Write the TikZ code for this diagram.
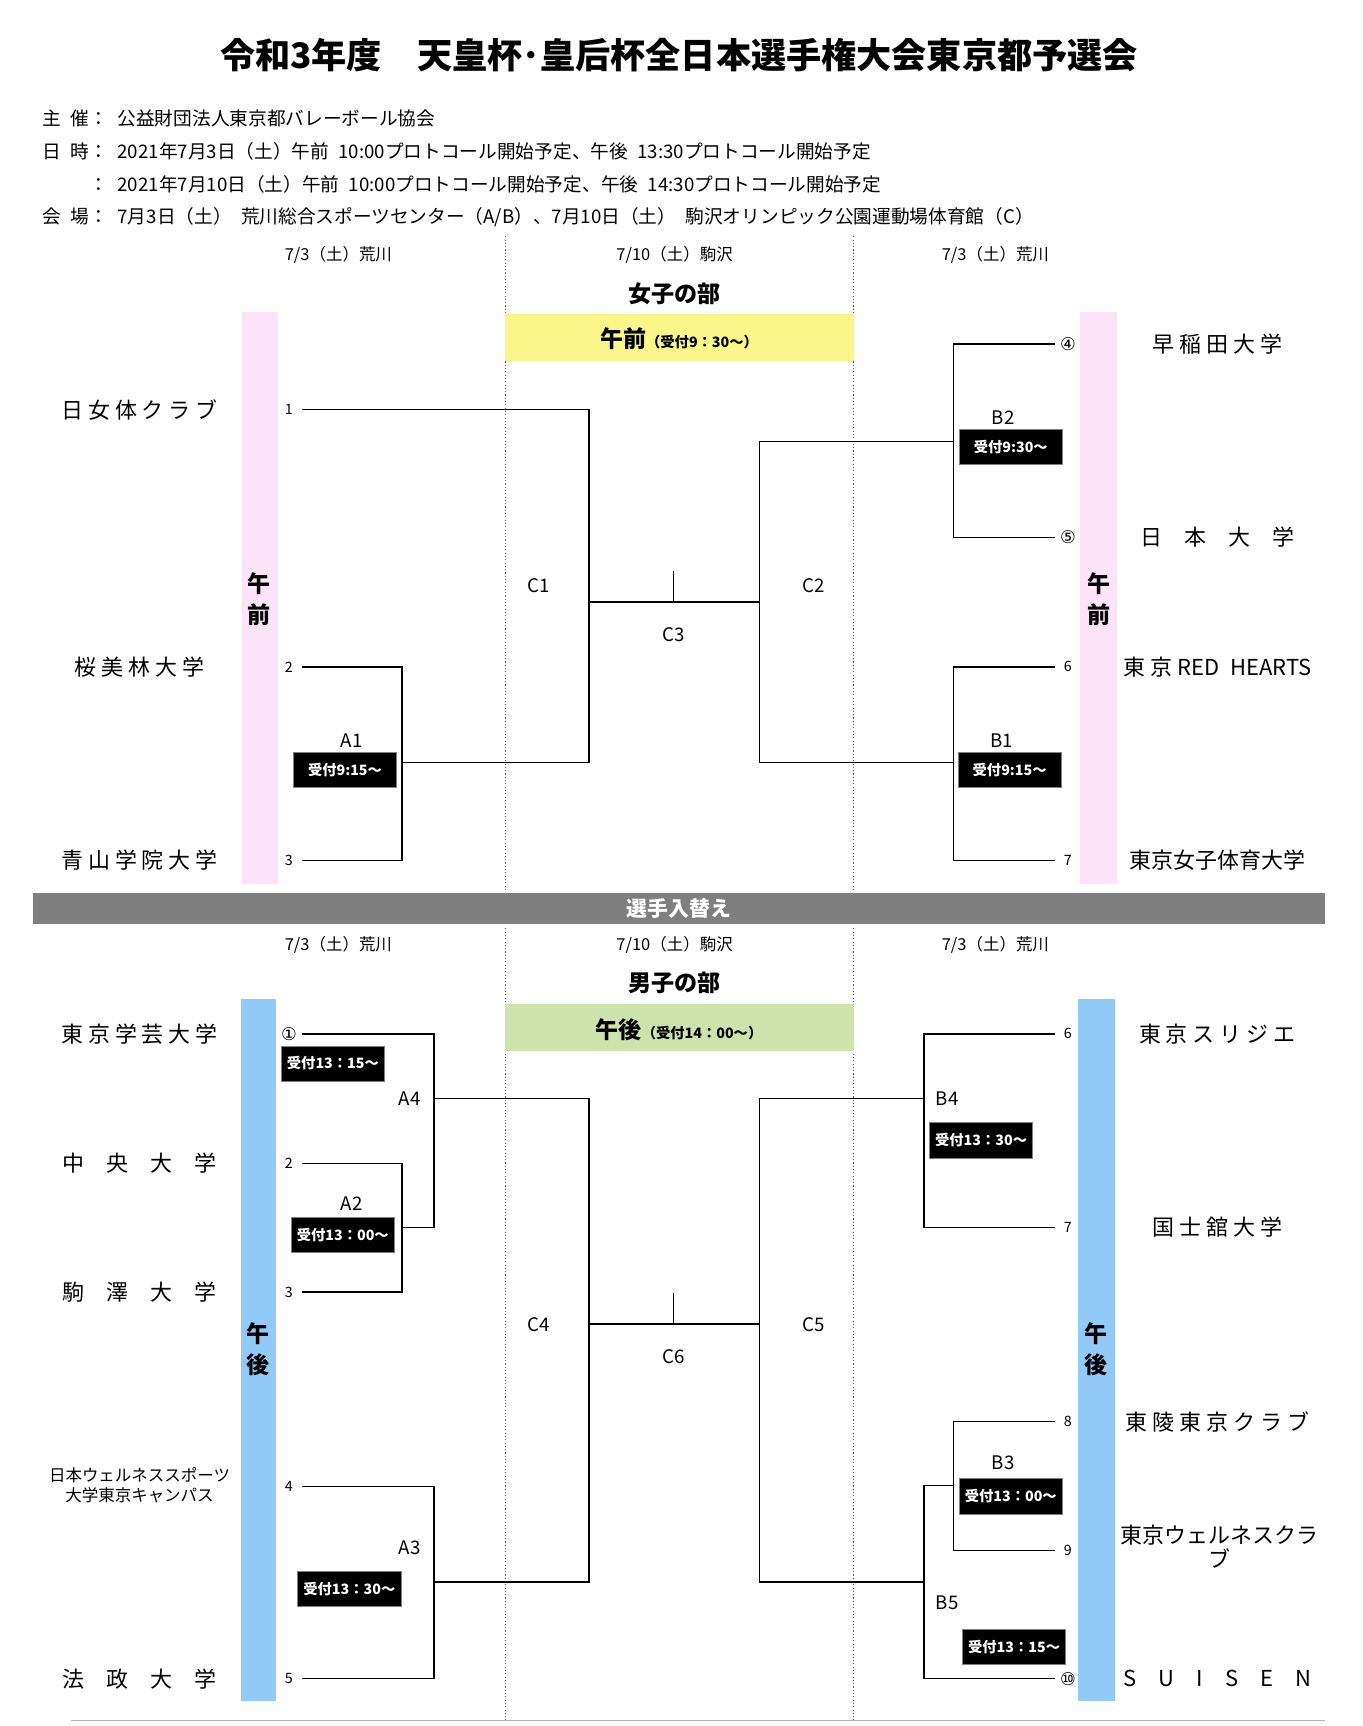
\documentclass[tikz,border=0pt]{standalone}
\usepackage{fontspec}
\setmainfont{Noto Sans CJK JP}
\newfontfamily\numfont{DejaVu Sans}
\definecolor{PinkBar}{HTML}{FBE4F8}
\definecolor{BlueBar}{HTML}{92CAF7}
\definecolor{YellowBox}{HTML}{FAF68A}
\definecolor{GreenBox}{HTML}{CDE3AB}
\definecolor{BandGray}{HTML}{7F7F7F}
\tikzset{
    info/.style={anchor=west,font=\fontsize{8.5}{10}\selectfont},
    hdr/.style={font=\fontsize{7.5}{9}\selectfont},
    team/.style={font=\fontsize{10}{12}\selectfont,align=center},
    num/.style={font=\fontsize{6.5}{8}\selectfont},
    mlabel/.style={font=\fontsize{8.5}{10}\selectfont},
    recept/.style={fill=black,text=white,draw=gray,font=\bfseries\fontsize{6.5}{8}\selectfont,
        minimum width=47pt,minimum height=16pt,inner sep=1pt},
    bracket/.style={line width=0.6pt},
    sep/.style={densely dotted,gray!70!black,line width=0.5pt},
}
\newcommand\Recept[4]{% name, x, y, text
    \node[recept] (#1) at (#2,#3) {#4};
}
\begin{document}
\begin{tikzpicture}[x=0.5pt,y=-0.5pt]
    \useasboundingbox (0,0) rectangle (1240,1571);
    % header
    \node[font=\bfseries\fontsize{16}{18}\selectfont] (title) at (618,50) {令和3年度\quad 天皇杯･皇后杯全日本選手権大会東京都予選会};
    \node[info] (host) at (32,108) {主\enspace 催：\enspace 公益財団法人東京都バレーボール協会};
    \node[info] (date1) at (32,138) {日\enspace 時：\enspace 2021年7月3日（土）午前\enspace 10:00プロトコール開始予定、午後\enspace 13:30プロトコール開始予定};
    \node[info] (date2) at (32,168) {\phantom{日\enspace 時}：\enspace 2021年7月10日（土）午前\enspace 10:00プロトコール開始予定、午後\enspace 14:30プロトコール開始予定};
    \node[info] (venue) at (32,198) {会\enspace 場：\enspace 7月3日（土）\enspace 荒川総合スポーツセンター（A/B）、7月10日（土）\enspace 駒沢オリンピック公園運動場体育館（C）};
    % separators
    \draw[sep] (460,215) -- (460,810) (777,215) -- (777,810);
    \draw[sep] (460,845) -- (460,1568) (777,845) -- (777,1568);
    % ---------- women
    \node[hdr] (wh1) at (308,232) {7/3（土）荒川};
    \node[hdr] (wh2) at (614,232) {7/10（土）駒沢};
    \node[hdr] (wh3) at (906,232) {7/3（土）荒川};
    \node[font=\bfseries\fontsize{10.5}{12}\selectfont] (women) at (614,267) {女子の部};
    \fill[YellowBox] (460,286) rectangle (777,329);
    \node (wbox) at (618,308) {\bfseries\fontsize{10.5}{12}\selectfont 午前\fontsize{6.5}{8}\selectfont（受付9：30～）};
    \fill[PinkBar] (220,284) rectangle (253,805);
    \fill[PinkBar] (983,284) rectangle (1017,805);
    \node[team,font=\bfseries\fontsize{10.5}{14}\selectfont] (wl) at (236,545) {午\\前};
    \node[team,font=\bfseries\fontsize{10.5}{14}\selectfont] (wr) at (1000,545) {午\\前};
    \node[team] (t1) at (127,373) {日 女 体 ク ラ ブ};
    \node[team] (t2) at (127,607) {桜 美 林 大 学};
    \node[team] (t3) at (127,783) {青 山 学 院 大 学};
    \node[num] (n1) at (263,373) {1};
    \node[num] (n2) at (263,607) {2};
    \node[num] (n3) at (263,783) {3};
    \node[team] (t4) at (1108,313) {早 稲 田 大 学};
    \node[team] (t5) at (1108,489) {日\quad 本\quad 大\quad 学};
    \node[team] (t6) at (1108,607) {東 京 RED\enspace HEARTS};
    \node[team] (t7) at (1108,783) {東京女子体育大学};
    \node[num,font=\numfont\fontsize{8}{9}\selectfont] (n4) at (972,313) {④};
    \node[num,font=\numfont\fontsize{8}{9}\selectfont] (n5) at (972,489) {⑤};
    \node[num] (n6) at (972,607) {6};
    \node[num] (n7) at (972,783) {7};
    \begin{scope}[bracket]
        \draw (275,373) -- (536,373) -- (536,694) -- (366,694);
        \draw (275,607) -- (366,607) -- (366,783) -- (275,783);
        \draw (536,548) -- (691,548) (613,548) -- (613,520);
        \draw (960,313) -- (868,313) -- (868,489) -- (960,489);
        \draw (868,402) -- (691,402) -- (691,694) -- (868,694);
        \draw (960,607) -- (868,607) -- (868,783) -- (960,783);
    \end{scope}
    \node[mlabel] (A1) at (320,674) {A1};
    \Recept{rA1}{314}{701}{受付9:15～}
    \node[mlabel] (C1) at (490,533) {C1};
    \node[mlabel] (C2) at (741,533) {C2};
    \node[mlabel] (C3) at (613,578) {C3};
    \node[mlabel] (B2) at (913,380) {B2};
    \Recept{rB2}{920}{407}{受付9:30～}
    \node[mlabel] (B1) at (912,674) {B1};
    \Recept{rB1}{919}{701}{受付9:15～}
    % ---------- band
    \fill[BandGray] (30,813) rectangle (1206,841);
    \node[text=white,font=\bfseries\fontsize{9.5}{11}\selectfont] (swap) at (618,827) {選手入替え};
    % ---------- men
    \node[hdr] (mh1) at (308,860) {7/3（土）荒川};
    \node[hdr] (mh2) at (614,860) {7/10（土）駒沢};
    \node[hdr] (mh3) at (906,860) {7/3（土）荒川};
    \node[font=\bfseries\fontsize{10.5}{12}\selectfont] (men) at (614,895) {男子の部};
    \fill[GreenBox] (460,914) rectangle (777,957);
    \node (mbox) at (618,937) {\bfseries\fontsize{10.5}{12}\selectfont 午後\fontsize{6.5}{8}\selectfont（受付14：00～）};
    \fill[BlueBar] (219,909) rectangle (251,1548);
    \fill[BlueBar] (981,909) rectangle (1015,1548);
    \node[team,font=\bfseries\fontsize{10.5}{14}\selectfont] (ml) at (235,1228) {午\\後};
    \node[team,font=\bfseries\fontsize{10.5}{14}\selectfont] (mr) at (998,1228) {午\\後};
    \node[team] (m1) at (127,941) {東 京 学 芸 大 学};
    \node[team] (m2) at (127,1059) {中\quad 央\quad 大\quad 学};
    \node[team] (m3) at (127,1176) {駒\quad 澤\quad 大\quad 学};
    \node[team,font=\fontsize{7.5}{9}\selectfont] (m4) at (127,1352) {日本ウェルネススポーツ\\大学東京キャンパス};
    \node[team] (m5) at (127,1528) {法\quad 政\quad 大\quad 学};
    \node[num,font=\numfont\fontsize{8}{9}\selectfont] (k1) at (263,941) {①};
    \node[num] (k2) at (263,1059) {2};
    \node[num] (k3) at (263,1176) {3};
    \node[num] (k4) at (263,1353) {4};
    \node[num] (k5) at (263,1528) {5};
    \node[team] (m6) at (1108,941) {東 京 ス リ ジ エ};
    \node[team] (m7) at (1108,1117) {国 士 舘 大 学};
    \node[team] (m8) at (1108,1294) {東 陵 東 京 ク ラ ブ};
    \node[team,font=\fontsize{10}{11}\selectfont] (m9) at (1110,1408) {東京ウェルネスクラ\\ブ};
    \node[team] (m10) at (1108,1528) {S\quad U\quad I\quad S\quad E\quad N};
    \node[num] (k6) at (972,941) {6};
    \node[num] (k7) at (972,1117) {7};
    \node[num] (k8) at (972,1294) {8};
    \node[num] (k9) at (972,1411) {9};
    \node[num,font=\numfont\fontsize{8}{9}\selectfont] (k10) at (972,1528) {⑩};
    \begin{scope}[bracket]
        \draw (275,941) -- (395,941) -- (395,1117) -- (366,1117);
        \draw (275,1059) -- (366,1059) -- (366,1176) -- (275,1176);
        \draw (395,1000) -- (536,1000) -- (536,1440) -- (395,1440);
        \draw (275,1353) -- (395,1353) -- (395,1528) -- (275,1528);
        \draw (536,1205) -- (691,1205) (613,1205) -- (613,1177);
        \draw (841,1000) -- (691,1000) -- (691,1440) -- (841,1440);
        \draw (960,941) -- (841,941) -- (841,1117) -- (960,1117);
        \draw (960,1294) -- (868,1294) -- (868,1411) -- (960,1411);
        \draw (868,1352) -- (841,1352) -- (841,1528) -- (960,1528);
    \end{scope}
    \Recept{rK1}{303}{968}{受付13：15～}
    \node[mlabel] (A4) at (373,1000) {A4};
    \node[mlabel] (A2) at (320,1096) {A2};
    \Recept{rA2}{312}{1124}{受付13：00～}
    \node[mlabel] (A3) at (373,1409) {A3};
    \Recept{rA3}{318}{1446}{受付13：30～}
    \node[mlabel] (C4) at (490,1206) {C4};
    \node[mlabel] (C5) at (741,1206) {C5};
    \node[mlabel] (C6) at (613,1235) {C6};
    \node[mlabel] (B4) at (862,1000) {B4};
    \Recept{rB4}{893}{1038}{受付13：30～}
    \node[mlabel] (B3) at (913,1331) {B3};
    \Recept{rB3}{920}{1362}{受付13：00～}
    \node[mlabel] (B5) at (862,1459) {B5};
    \Recept{rB5}{923}{1499}{受付13：15～}
    \draw[gray!60,line width=0.5pt] (65,1566) -- (1206,1566);
\end{tikzpicture}
\end{document}
